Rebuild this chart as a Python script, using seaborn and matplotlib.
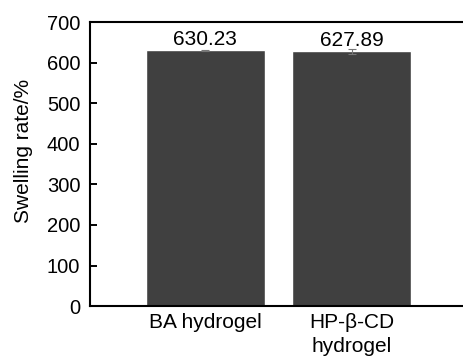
import matplotlib
matplotlib.use("Agg")
import matplotlib.pyplot as plt
import seaborn as sns
import pandas as pd

# data
groups = ["BA hydrogel", "HP-\u03b2-CD\nhydrogel"]
swelling = [630.23, 627.89]
errors = [2.0, 6.0]
labels = ["630.23", "627.89"]

sns.set_style("ticks")
plt.rcParams['font.family'] = ['Liberation Sans', 'DejaVu Sans']
plt.rcParams['text.color'] = 'black'

df = pd.DataFrame({"group": groups, "rate": swelling})

fig = plt.figure(figsize=(4.64, 3.58), dpi=100)
ax = fig.add_axes([0.194, 0.145, 0.806, 0.7935])
sns.barplot(data=df, x="group", y="rate", color="#404040", saturation=1,
            width=0.81, errorbar=None, ax=ax)
ax.errorbar(range(len(groups)), swelling, yerr=errors, fmt="none",
            ecolor="#777777", elinewidth=0.8, capsize=3, capthick=0.8)
for i, (v, t) in enumerate(zip(swelling, labels)):
    ax.text(i, v + 3, t, ha="center", va="bottom", fontsize=15, color="black")

ax.set_ylim(0, 700)
ax.set_xlim(-0.79, 1.77)
ax.set_yticks(range(0, 701, 100))
ax.set_xlabel("")
ax.set_ylabel("Swelling rate/%", fontsize=15, color="black")
ax.yaxis.set_label_coords(-0.152, 0.546)
ax.tick_params(axis="y", labelsize=14.5, direction="in", length=5, width=1.4,
               pad=7, colors="black")
ax.tick_params(axis="x", labelsize=15, length=0, pad=5, colors="black")
for lab in ax.get_xticklabels():
    lab.set_linespacing(1.3)
for s in ["left", "bottom", "top"]:
    ax.spines[s].set_linewidth(1.5)
    ax.spines[s].set_color("black")
ax.spines["right"].set_visible(False)

fig.savefig("out.png", dpi=100)
